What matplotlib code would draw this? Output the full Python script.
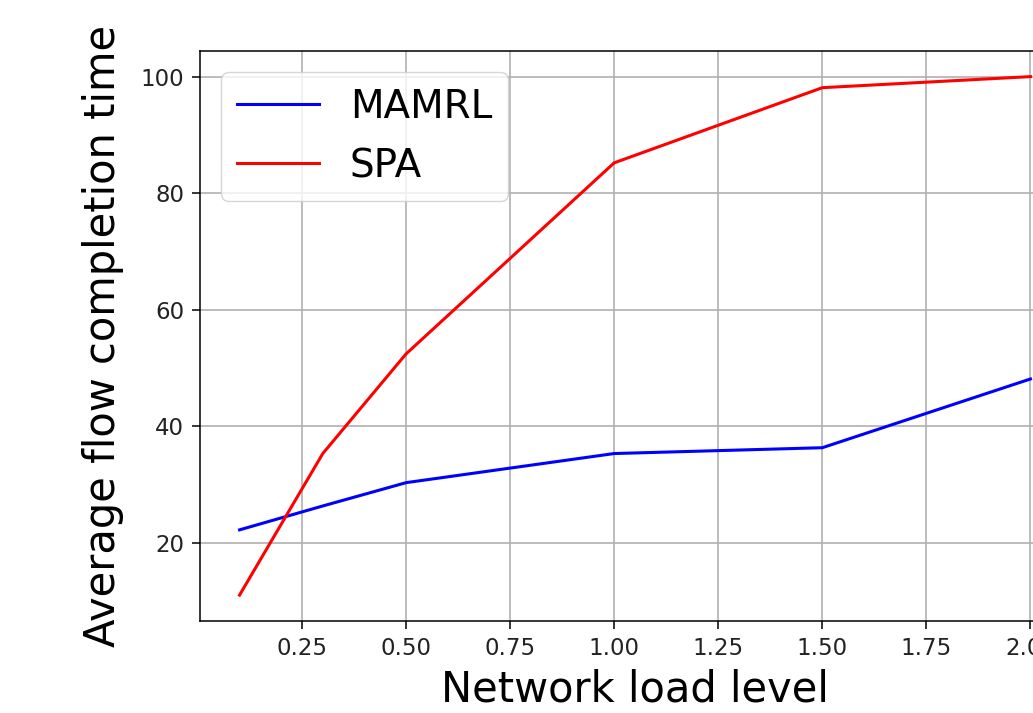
#!/usr/bin/env python3
# Average flow completion time vs network load level (MAMRL vs SPA).

import matplotlib
matplotlib.use("Agg")
import matplotlib.pyplot as plt

load_levels = [0.1, 0.3, 0.5, 1.0, 1.5, 2.0]
mamrl_fct = [22.2, 26.3, 30.3, 35.3, 36.3, 48.1]
spa_fct = [11.0, 35.3, 52.4, 85.2, 98.1, 100.0]

x_ticks = [0.25, 0.50, 0.75, 1.00, 1.25, 1.50, 1.75, 2.00]
y_ticks = [20, 40, 60, 80, 100]


def main():
    fig = plt.figure(figsize=(10.33, 7.13), dpi=100)
    # the original image is cropped on the right, so the axes run past the edge
    ax = fig.add_axes([0.1936, 0.129, 0.8422, 0.7999])

    ax.plot(load_levels, mamrl_fct, color="blue", linewidth=2.2, label="MAMRL")
    ax.plot(load_levels, spa_fct, color="red", linewidth=2.2, label="SPA")

    ax.set_xticks(x_ticks)
    ax.set_yticks(y_ticks)
    ax.tick_params(labelsize=16.5, length=5.5, width=1.1, pad=6, labelcolor="#222222")
    ax.set_xlabel("Network load level", fontsize=30, labelpad=6)
    ax.set_ylabel("Average flow completion time", fontsize=30, labelpad=12)
    ax.grid(True, color="#b0b0b0", linewidth=1.2)
    for s in ax.spines.values():
        s.set_linewidth(1.1)

    ax.legend(fontsize=28, loc="upper left", handlelength=2.1,
              labelspacing=0.55, borderaxespad=0.55)

    fig.savefig("out.png", dpi=100)


if __name__ == "__main__":
    main()
